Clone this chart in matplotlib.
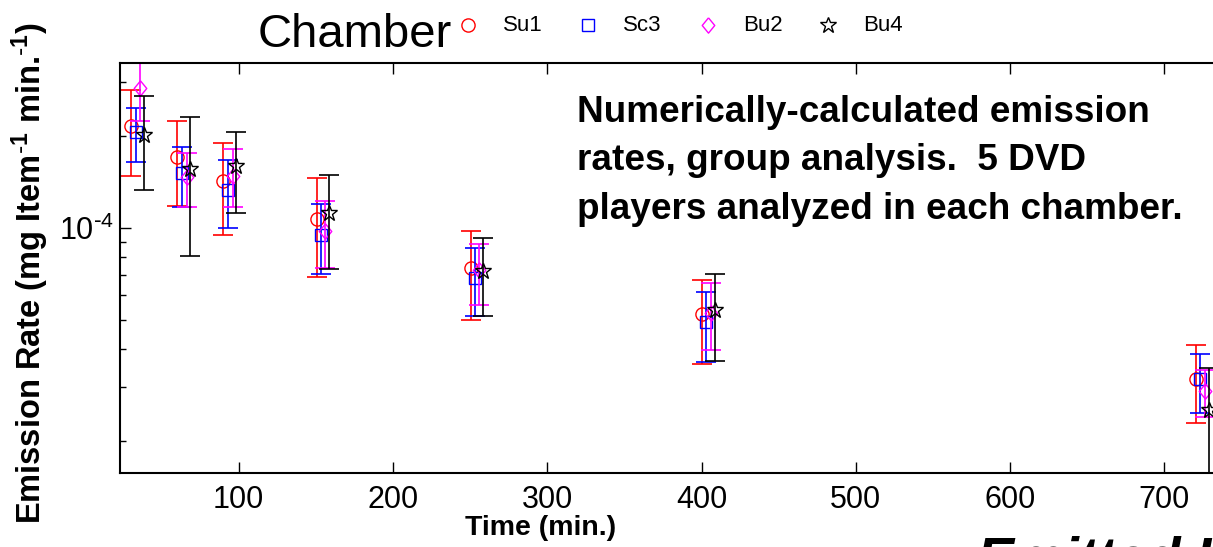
import matplotlib
matplotlib.use('Agg')
import matplotlib.pyplot as plt
from matplotlib.lines import Line2D
from matplotlib import ticker

plt.rcParams['font.family'] = ['Liberation Sans', 'DejaVu Sans']

# ----------------------------------------------------------------------
# data (rates in mg item-1 min-1)
# ----------------------------------------------------------------------
chambers = ['Su1', 'Sc3', 'Bu2', 'Bu4']

su1_t = [30, 60, 90, 150.6, 250.4, 400, 720.4]
su1_y = [2.15e-4, 1.70e-4, 1.42e-4, 1.07e-4, 0.74e-4, 0.522e-4, 0.32e-4]
su1_hi = [2.82e-4, 2.23e-4, 1.90e-4, 1.45e-4, 0.978e-4, 0.676e-4, 0.412e-4]
su1_lo = [1.48e-4, 1.18e-4, 0.946e-4, 0.691e-4, 0.50e-4, 0.359e-4, 0.229e-4]

sc3_t = [33.3, 63.1, 93.3, 153.2, 253.2, 403.2, 723.2]
sc3_y = [2.06e-4, 1.51e-4, 1.33e-4, 0.946e-4, 0.683e-4, 0.4925e-4, 0.319e-4]
sc3_hi = [2.46e-4, 1.84e-4, 1.66e-4, 1.198e-4, 0.856e-4, 0.617e-4, 0.385e-4]
sc3_lo = [1.64e-4, 1.17e-4, 1.00e-4, 0.707e-4, 0.515e-4, 0.3635e-4, 0.248e-4]

bu2_t = [36, 66.3, 96.1, 156.2, 256, 406.2, 726]
bu2_y = [2.86e-4, 1.46e-4, 1.48e-4, 0.975e-4, 0.727e-4, 0.527e-4, 0.293e-4]
bu2_hi = [3.45e-4, 1.76e-4, 1.81e-4, 1.226e-4, 0.884e-4, 0.661e-4, 0.342e-4]
bu2_lo = [2.23e-4, 1.17e-4, 1.17e-4, 0.736e-4, 0.557e-4, 0.398e-4, 0.24e-4]

bu4_t = [38.4, 68.5, 98.3, 158.8, 258.6, 408.6, 729.1]
bu4_y = [2.01e-4, 1.556e-4, 1.588e-4, 1.115e-4, 0.722e-4, 0.537e-4, 0.253e-4]
bu4_hi = [2.70e-4, 2.30e-4, 2.06e-4, 1.484e-4, 0.925e-4, 0.707e-4, 0.348e-4]
bu4_lo = [1.326e-4, 0.808e-4, 1.12e-4, 0.731e-4, 0.515e-4, 0.367e-4, 0.14e-4]

x_ticks = [100, 200, 300, 400, 500, 600, 700]
y_major = [1e-4]
y_major_label = [r'$\mathregular{10^{\text{-}4}}$']

note_lines = ['Numerically-calculated emission',
              'rates, group analysis.  5 DVD',
              'players analyzed in each chamber.']

# ----------------------------------------------------------------------
# styles
# ----------------------------------------------------------------------
diamond = [(0, 1), (0.82, 0), (0, -1), (-0.82, 0), (0, 1)]
styles = [('red', 'o', 9.5), ('blue', 's', 9), ('magenta', diamond, 11), ('black', '*', 12)]

W, H = 1213, 547


def fx(x):
    return x / W


def fy(y):
    return 1 - y / H


fig = plt.figure(figsize=(W / 100, H / 100), dpi=100)
# axes runs off the right edge of the figure, as in the reference
ax = fig.add_axes([fx(120), fy(473), 1137 / W, (473 - 62.7) / H])

series = [(su1_t, su1_y, su1_lo, su1_hi),
          (sc3_t, sc3_y, sc3_lo, sc3_hi),
          (bu2_t, bu2_y, bu2_lo, bu2_hi),
          (bu4_t, bu4_y, bu4_lo, bu4_hi)]

for (t, y, lo, hi), (col, mk, ms) in zip(series, styles):
    err = [[a - b for a, b in zip(y, lo)], [b - a for a, b in zip(y, hi)]]
    ax.errorbar(t, y, yerr=err, fmt='none', ecolor=col, elinewidth=1.2,
                capsize=7.2, capthick=1.2)
    ax.plot(t, y, linestyle='none', marker=mk, ms=ms, mfc='none', mec=col, mew=1.0)

ax.set_yscale('log')
ax.set_xlim(23.1, 760)
ax.set_ylim(1.575e-5, 3.467e-4)

ax.xaxis.set_major_locator(ticker.FixedLocator(x_ticks))
ax.yaxis.set_major_locator(ticker.FixedLocator(y_major))
ax.yaxis.set_major_formatter(ticker.FixedFormatter(y_major_label))
ax.yaxis.set_minor_locator(ticker.LogLocator(base=10, subs=range(2, 10)))
ax.yaxis.set_minor_formatter(ticker.NullFormatter())

ax.tick_params(which='both', direction='in', top=True, right=False, width=1.0)
ax.tick_params(which='major', length=8, labelsize=22)
ax.tick_params(which='minor', length=4.5)
ax.tick_params(axis='x', pad=9)
ax.tick_params(axis='y', pad=4)
for s in ax.spines.values():
    s.set_linewidth(1.5)

# labels
fig.text(fx(541), fy(528), 'Time (min.)', fontsize=20.5, weight='bold', ha='center', va='center')
fig.text(fx(30), fy(273), r'Emission Rate (mg Item$\mathregular{^{\text{-}1}}$ min.$\mathregular{^{\text{-}1}}$)',
         fontsize=23.5, weight='bold', rotation=90, ha='center', va='center')

for i, line in enumerate(note_lines):
    fig.text(fx(577), fy(122 + 48.5 * i), line, fontsize=26.6, weight='bold', va='baseline')

fig.text(fx(977), fy(536), 'Emitted Lo', fontsize=40, weight='bold', style='italic', va='top')

# legend row
fig.text(fx(258), fy(47), 'Chamber', fontsize=34, va='baseline')
for i, (name, (col, mk, ms)) in enumerate(zip(chambers, styles)):
    xm = 468 + 120 * i
    fig.add_artist(Line2D([fx(xm)], [fy(25)], marker=mk, ms=ms, mfc='none', mec=col,
                          mew=1.0, linestyle='none', transform=fig.transFigure))
    fig.text(fx(xm + 35), fy(31), name, fontsize=16, va='baseline')

fig.savefig('out.png', dpi=100)
